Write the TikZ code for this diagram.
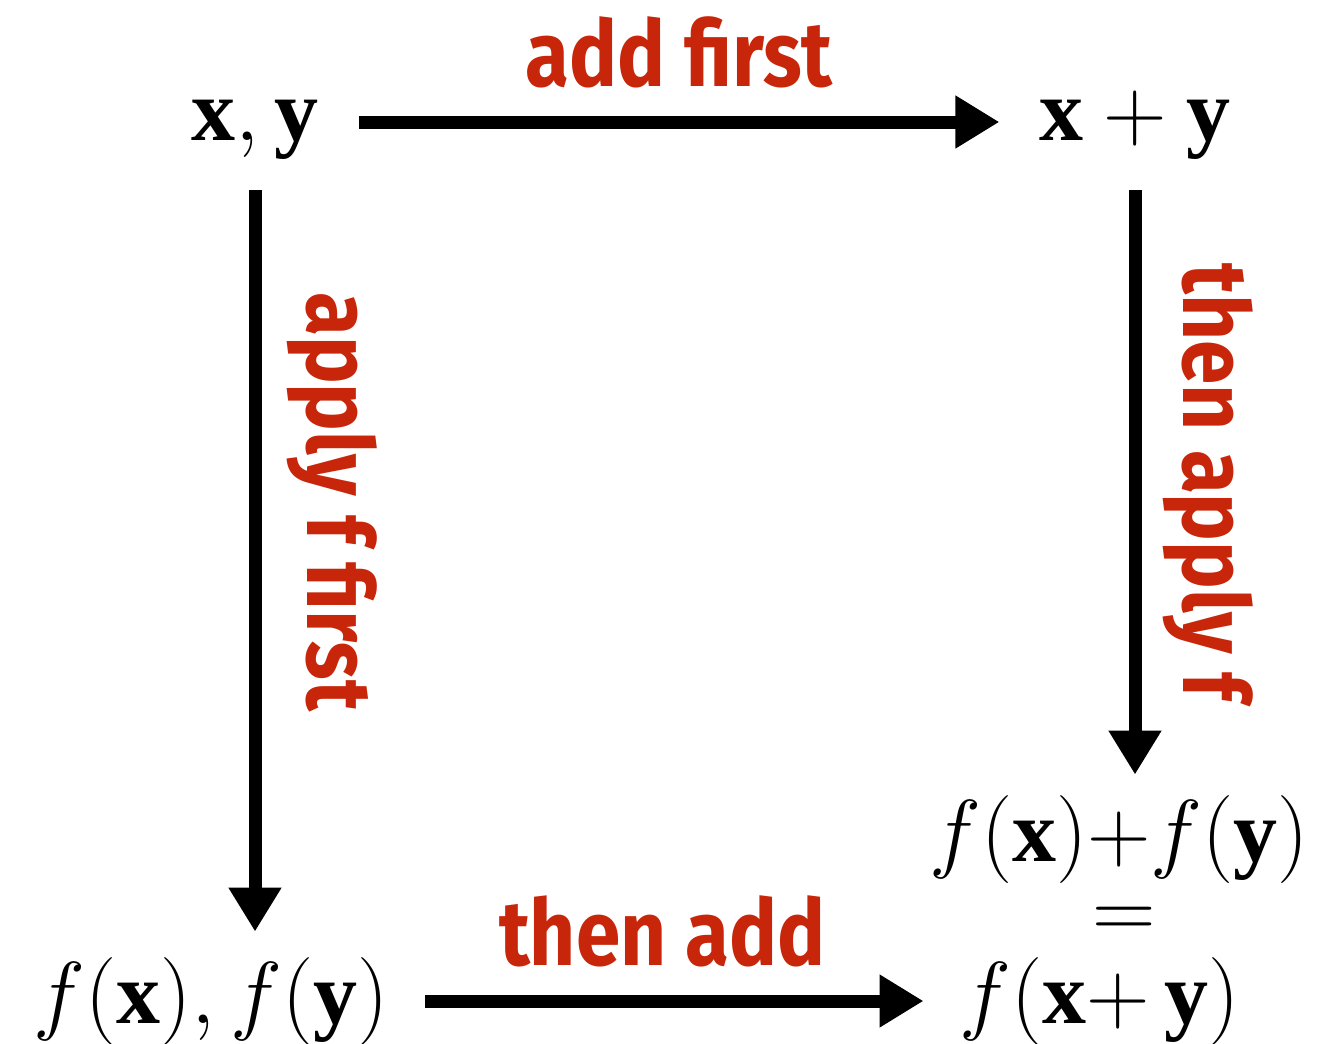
\RequirePackage{fix-cm}
\documentclass[tikz,border=0pt]{standalone}
\usepackage{fontspec}
\setmainfont{Liberation Serif}
\newfontfamily\labelfont{Fira Sans}[FakeStretch=0.87]
\usetikzlibrary{arrows.meta,positioning}
\definecolor{labelred}{RGB}{200,38,10}

\begin{document}
\begin{tikzpicture}[
    x=0.5pt, y=-0.5pt,
    topmath/.style={font=\fontsize{44}{48}\selectfont, anchor=base, text height=28pt, text depth=10pt, inner xsep=20pt, inner ysep=15pt},
    botmath/.style={font=\fontsize{44}{48}\selectfont, anchor=base, text height=38pt, text depth=16pt, inner xsep=18pt, inner ysep=7.5pt},
    redlabel/.style={font=\labelfont\bfseries\fontsize{46}{50}\selectfont, text=labelred, inner sep=0pt},
    arrow/.style={-{Triangle[length=22pt,width=25pt]}, line width=6.5pt}
]
    \useasboundingbox (0,0) rectangle (1330,1044);

    \node[topmath] (xy) at (255,140) {$\mathbf{x},\mathbf{y}$};
    \node[topmath] (sum) at (1135,140) {$\mathbf{x}+\mathbf{y}$};
    \node[botmath] (fxfy) at (211,1023) {$f(\mathbf{x}),f(\mathbf{y})$};
    \node[botmath, text depth=4pt, inner ysep=5pt] (fsum) at (1119,861) {$f(\mathbf{x}){+}f(\mathbf{y})$};
    \node[font=\fontsize{44}{48}\selectfont, inner sep=0pt, anchor=base] (eq) at (1124,938) {$=$};
    \node[botmath] (fadd) at (1100,1023) {$f(\mathbf{x}{+}\,\mathbf{y})$};

    \draw[arrow] (xy.east) -- node[redlabel, above=13.5pt] {add first} (sum.west);
    \draw[arrow] (fxfy.east) -- node[redlabel, above=13.5pt, xshift=-6pt] {then add} (fadd.west);
    \draw[arrow] (xy.south) -- node[redlabel, sloped, above=13pt, pos=0.42] {apply f first} (xy.south |- fxfy.north);
    \draw[arrow] (sum.south) -- node[redlabel, sloped, above=11pt, pos=0.5] {then apply f} (sum.south |- fsum.north);
\end{tikzpicture}
\end{document}
